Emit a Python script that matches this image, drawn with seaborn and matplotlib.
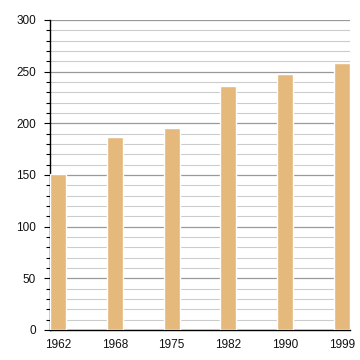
import matplotlib
matplotlib.use("Agg")
import matplotlib.pyplot as plt
import seaborn as sns
import pandas as pd
from matplotlib.ticker import MultipleLocator

years = ["1962", "1968", "1975", "1982", "1990", "1999"]
values = [151, 187, 195, 236, 248, 258]

sns.set_theme(style="white")
plt.rcParams['font.family'] = ['Liberation Sans', 'DejaVu Sans']

df = pd.DataFrame({"year": years, "value": values})

fig = plt.figure(figsize=(3.6, 3.6), dpi=100)
ax = fig.add_axes([50/360, 30/360, 300/360, 310/360])

w = 0.28
sns.barplot(data=df, x="year", y="value", color="#E5B87C", width=w, ax=ax,
            saturation=1, zorder=3)

ax.set_xlim(-w/2, len(years) - 1 + w/2)
ax.set_ylim(0, 300)
ax.yaxis.set_major_locator(MultipleLocator(50))
ax.yaxis.set_minor_locator(MultipleLocator(10))
ax.grid(axis="y", which="major", color="#999999", linewidth=0.9, zorder=0)
ax.grid(axis="y", which="minor", color="#cccccc", linewidth=0.8, zorder=0)
ax.set_axisbelow(True)

for s in ["top", "right"]:
    ax.spines[s].set_visible(False)
for s in ["left", "bottom"]:
    ax.spines[s].set_color("black")
    ax.spines[s].set_linewidth(1.0)

ax.tick_params(axis="y", which="major", left=True, length=4, width=0.8, color="black",
               labelsize=8.5, labelcolor="#111111", pad=6)
ax.tick_params(axis="y", which="minor", left=True, length=3, width=0.8, color="black")
ax.tick_params(axis="x", bottom=False, labelsize=8.5, labelcolor="#111111", pad=0.5)
ax.set_xlabel("")
ax.set_ylabel("")

fig.savefig("out.png", dpi=100)
